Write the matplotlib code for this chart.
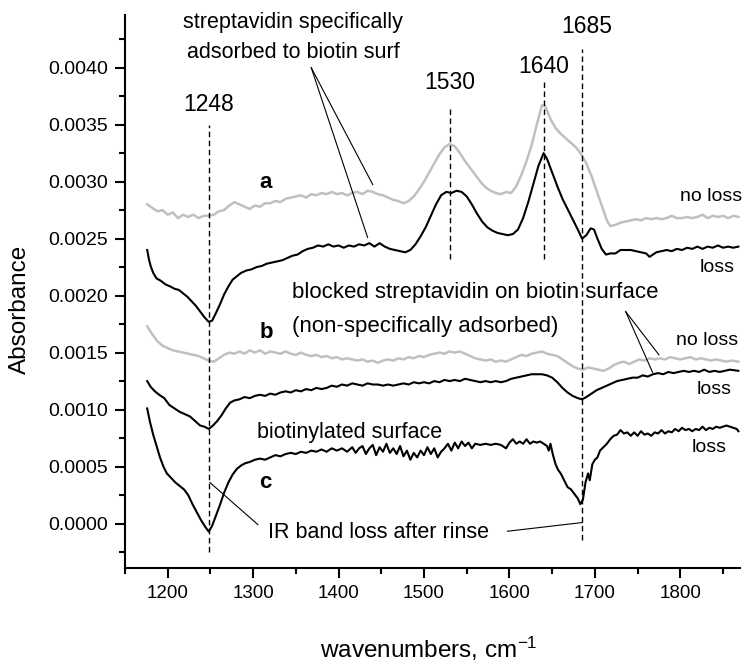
import numpy as np
import matplotlib
matplotlib.use("Agg")
import matplotlib.pyplot as plt
from matplotlib.ticker import MultipleLocator, FormatStrFormatter

plt.rcParams['font.family'] = ['Liberation Sans', 'DejaVu Sans']
plt.rcParams['mathtext.default'] = 'regular'

# spectrum a, no loss (grey)
wn_a0 = np.array([1176, 1182, 1188, 1194, 1200, 1206, 1212, 1218, 1224, 1230, 1236, 1242, 1248, 1254,
                  1260, 1266, 1272, 1278, 1284, 1290, 1296, 1302, 1308, 1314, 1320, 1326, 1332, 1338,
                  1344, 1350, 1356, 1362, 1368, 1374, 1380, 1386, 1392, 1398, 1404, 1410, 1416, 1422,
                  1428, 1434, 1440, 1446, 1452, 1458, 1464, 1470, 1476, 1482, 1488, 1494, 1500, 1506,
                  1512, 1518, 1524, 1530, 1536, 1542, 1548, 1554, 1560, 1566, 1572, 1578, 1584, 1590,
                  1596, 1602, 1608, 1614, 1620, 1626, 1632, 1638, 1642, 1648, 1654, 1660, 1666, 1672,
                  1678, 1684, 1690, 1696, 1702, 1708, 1714, 1718, 1724, 1730, 1736, 1742, 1748, 1754,
                  1760, 1766, 1772, 1778, 1784, 1790, 1796, 1802, 1808, 1814, 1820, 1826, 1832, 1838,
                  1844, 1850, 1856, 1862, 1868])
ab_a0 = np.array([2.80, 2.77, 2.74, 2.75, 2.71, 2.73, 2.68, 2.71, 2.69, 2.71, 2.68, 2.70, 2.70, 2.71,
                  2.74, 2.75, 2.79, 2.82, 2.80, 2.78, 2.76, 2.79, 2.78, 2.81, 2.81, 2.83, 2.82, 2.85,
                  2.86, 2.87, 2.88, 2.86, 2.89, 2.88, 2.90, 2.89, 2.91, 2.89, 2.90, 2.88, 2.90, 2.91,
                  2.89, 2.92, 2.91, 2.89, 2.88, 2.86, 2.84, 2.83, 2.81, 2.83, 2.87, 2.93, 3.00, 3.08,
                  3.16, 3.24, 3.30, 3.33, 3.31, 3.25, 3.18, 3.12, 3.06, 3.00, 2.95, 2.92, 2.90, 2.89,
                  2.91, 2.90, 2.96, 3.06, 3.18, 3.32, 3.50, 3.67, 3.66, 3.55, 3.47, 3.42, 3.38, 3.34,
                  3.30, 3.24, 3.16, 3.05, 2.92, 2.79, 2.66, 2.61, 2.62, 2.64, 2.65, 2.66, 2.67, 2.66,
                  2.68, 2.67, 2.68, 2.67, 2.68, 2.70, 2.68, 2.68, 2.69, 2.68, 2.69, 2.71, 2.68, 2.70,
                  2.69, 2.70, 2.68, 2.70, 2.69]) * 1e-3

# spectrum a, loss (black)
wn_a1 = np.array([1176, 1178, 1180, 1183, 1187, 1192, 1197, 1203, 1208, 1213, 1218, 1223, 1228, 1233,
                  1238, 1243, 1248, 1252, 1256, 1261, 1266, 1271, 1276, 1281, 1286, 1292, 1298, 1304,
                  1310, 1316, 1322, 1328, 1334, 1340, 1346, 1352, 1358, 1364, 1370, 1376, 1382, 1388,
                  1394, 1400, 1406, 1412, 1418, 1424, 1430, 1436, 1442, 1448, 1454, 1460, 1466, 1472,
                  1478, 1484, 1490, 1496, 1502, 1508, 1514, 1520, 1526, 1532, 1538, 1544, 1550, 1556,
                  1562, 1568, 1574, 1580, 1586, 1592, 1598, 1604, 1610, 1616, 1622, 1628, 1634, 1640,
                  1644, 1650, 1656, 1662, 1668, 1674, 1680, 1685, 1690, 1695, 1699, 1703, 1708, 1713,
                  1718, 1724, 1730, 1736, 1742, 1748, 1754, 1760, 1764, 1768, 1772, 1778, 1784, 1790,
                  1796, 1802, 1808, 1814, 1820, 1826, 1832, 1838, 1844, 1850, 1856, 1862, 1868])
ab_a1 = np.array([2.40, 2.32, 2.26, 2.20, 2.15, 2.13, 2.10, 2.08, 2.06, 2.05, 2.02, 1.99, 1.95, 1.91,
                  1.86, 1.81, 1.77, 1.78, 1.84, 1.92, 2.01, 2.08, 2.14, 2.17, 2.20, 2.22, 2.23, 2.25,
                  2.26, 2.28, 2.29, 2.30, 2.31, 2.33, 2.35, 2.36, 2.39, 2.41, 2.42, 2.44, 2.43, 2.45,
                  2.43, 2.44, 2.42, 2.44, 2.43, 2.45, 2.44, 2.46, 2.43, 2.46, 2.43, 2.41, 2.40, 2.39,
                  2.38, 2.40, 2.45, 2.52, 2.60, 2.70, 2.80, 2.88, 2.91, 2.90, 2.92, 2.91, 2.87, 2.80,
                  2.72, 2.65, 2.60, 2.57, 2.55, 2.54, 2.53, 2.54, 2.58, 2.68, 2.82, 2.98, 3.14, 3.25,
                  3.20, 3.08, 2.96, 2.85, 2.76, 2.67, 2.58, 2.50, 2.53, 2.59, 2.58, 2.50, 2.41, 2.36,
                  2.37, 2.37, 2.40, 2.40, 2.40, 2.39, 2.38, 2.37, 2.34, 2.36, 2.38, 2.39, 2.40, 2.39,
                  2.41, 2.40, 2.42, 2.41, 2.43, 2.41, 2.43, 2.42, 2.44, 2.42, 2.43, 2.42, 2.43]) * 1e-3

# spectrum b, no loss (grey)
wn_b0 = np.array([1176, 1182, 1188, 1194, 1200, 1206, 1212, 1218, 1224, 1230, 1236, 1242, 1248, 1254,
                  1260, 1266, 1272, 1278, 1284, 1290, 1296, 1302, 1308, 1314, 1320, 1326, 1332, 1338,
                  1344, 1350, 1356, 1362, 1368, 1374, 1380, 1386, 1392, 1398, 1404, 1410, 1416, 1422,
                  1428, 1434, 1440, 1446, 1452, 1458, 1464, 1470, 1476, 1482, 1488, 1494, 1500, 1506,
                  1512, 1518, 1524, 1530, 1536, 1542, 1548, 1554, 1560, 1566, 1572, 1578, 1584, 1590,
                  1596, 1602, 1608, 1614, 1620, 1626, 1632, 1638, 1644, 1650, 1656, 1662, 1668, 1674,
                  1680, 1686, 1692, 1698, 1704, 1710, 1716, 1722, 1728, 1734, 1740, 1746, 1752, 1758,
                  1764, 1770, 1776, 1782, 1788, 1794, 1800, 1806, 1812, 1818, 1824, 1830, 1836, 1842,
                  1848, 1854, 1860, 1868])
ab_b0 = np.array([1.73, 1.66, 1.60, 1.56, 1.54, 1.52, 1.51, 1.50, 1.49, 1.48, 1.47, 1.45, 1.43, 1.42,
                  1.45, 1.48, 1.50, 1.49, 1.51, 1.49, 1.52, 1.50, 1.52, 1.49, 1.51, 1.50, 1.49, 1.51,
                  1.49, 1.48, 1.50, 1.48, 1.47, 1.48, 1.46, 1.47, 1.45, 1.46, 1.44, 1.45, 1.44, 1.43,
                  1.44, 1.42, 1.43, 1.41, 1.43, 1.44, 1.43, 1.45, 1.44, 1.46, 1.45, 1.47, 1.46, 1.48,
                  1.49, 1.50, 1.49, 1.51, 1.50, 1.51, 1.49, 1.47, 1.45, 1.44, 1.43, 1.44, 1.42, 1.43,
                  1.42, 1.44, 1.46, 1.48, 1.47, 1.49, 1.50, 1.51, 1.49, 1.48, 1.47, 1.44, 1.41, 1.38,
                  1.36, 1.35, 1.37, 1.36, 1.35, 1.34, 1.36, 1.39, 1.41, 1.42, 1.40, 1.42, 1.44, 1.43,
                  1.45, 1.44, 1.45, 1.44, 1.46, 1.45, 1.44, 1.45, 1.46, 1.44, 1.45, 1.44, 1.43, 1.44,
                  1.43, 1.42, 1.43, 1.42]) * 1e-3

# spectrum b, loss (black)
wn_b1 = np.array([1176, 1180, 1185, 1190, 1196, 1202, 1208, 1214, 1220, 1226, 1232, 1238, 1243, 1248,
                  1253, 1258, 1263, 1268, 1273, 1278, 1284, 1290, 1296, 1302, 1308, 1314, 1320, 1326,
                  1332, 1338, 1344, 1350, 1356, 1362, 1368, 1374, 1380, 1386, 1392, 1398, 1404, 1410,
                  1416, 1422, 1428, 1434, 1440, 1446, 1452, 1458, 1464, 1470, 1476, 1482, 1488, 1494,
                  1500, 1506, 1512, 1518, 1524, 1530, 1536, 1542, 1548, 1554, 1560, 1566, 1572, 1578,
                  1584, 1590, 1596, 1602, 1608, 1614, 1620, 1626, 1632, 1638, 1644, 1650, 1656, 1662,
                  1668, 1674, 1680, 1685, 1690, 1696, 1702, 1708, 1714, 1720, 1726, 1732, 1738, 1744,
                  1750, 1756, 1762, 1768, 1774, 1780, 1786, 1792, 1798, 1804, 1810, 1816, 1822, 1828,
                  1834, 1840, 1846, 1852, 1858, 1868])
ab_b1 = np.array([1.25, 1.20, 1.16, 1.13, 1.10, 1.04, 1.01, 0.98, 0.96, 0.94, 0.90, 0.86, 0.85, 0.83,
                  0.86, 0.90, 0.95, 1.01, 1.06, 1.08, 1.09, 1.11, 1.10, 1.12, 1.13, 1.12, 1.14, 1.13,
                  1.15, 1.16, 1.15, 1.17, 1.16, 1.18, 1.17, 1.19, 1.18, 1.19, 1.21, 1.20, 1.22, 1.21,
                  1.23, 1.22, 1.21, 1.23, 1.22, 1.22, 1.21, 1.22, 1.21, 1.22, 1.23, 1.22, 1.24, 1.23,
                  1.24, 1.23, 1.25, 1.24, 1.26, 1.25, 1.26, 1.25, 1.27, 1.26, 1.25, 1.24, 1.25, 1.24,
                  1.25, 1.24, 1.25, 1.27, 1.28, 1.29, 1.30, 1.31, 1.31, 1.31, 1.30, 1.28, 1.24, 1.19,
                  1.15, 1.12, 1.10, 1.09, 1.11, 1.14, 1.17, 1.19, 1.21, 1.23, 1.25, 1.26, 1.27, 1.28,
                  1.28, 1.30, 1.29, 1.31, 1.32, 1.31, 1.33, 1.32, 1.33, 1.34, 1.33, 1.34, 1.33, 1.35,
                  1.33, 1.34, 1.33, 1.34, 1.35, 1.34]) * 1e-3

# spectrum c, biotinylated surface, loss (black)
wn_c1 = np.array([1176, 1179, 1183, 1187, 1191, 1195, 1199, 1204, 1209, 1214, 1219, 1224, 1229, 1234,
                  1239, 1244, 1248, 1252, 1256, 1261, 1266, 1271, 1276, 1281, 1286, 1291, 1296, 1302,
                  1308, 1314, 1320, 1326, 1332, 1338, 1344, 1350, 1356, 1362, 1368, 1374, 1380, 1386,
                  1392, 1398, 1404, 1410, 1416, 1420, 1424, 1428, 1432, 1436, 1440, 1444, 1448, 1452,
                  1456, 1460, 1464, 1468, 1472, 1476, 1480, 1484, 1488, 1492, 1496, 1500, 1504, 1508,
                  1512, 1516, 1520, 1524, 1528, 1532, 1536, 1540, 1544, 1548, 1552, 1556, 1560, 1566,
                  1572, 1578, 1584, 1590, 1596, 1600, 1604, 1608, 1612, 1616, 1620, 1624, 1628, 1632,
                  1636, 1640, 1644, 1646, 1648, 1651, 1654, 1657, 1660, 1664, 1668, 1672, 1676, 1680,
                  1683, 1686, 1689, 1692, 1694, 1697, 1700, 1703, 1706, 1710, 1714, 1718, 1722, 1726,
                  1730, 1734, 1738, 1742, 1746, 1750, 1754, 1758, 1762, 1766, 1770, 1774, 1778, 1782,
                  1786, 1790, 1794, 1798, 1802, 1806, 1810, 1814, 1818, 1822, 1826, 1830, 1834, 1838,
                  1842, 1846, 1850, 1854, 1858, 1862, 1866, 1868])
ab_c1 = np.array([1.01, 0.90, 0.78, 0.68, 0.58, 0.50, 0.44, 0.40, 0.36, 0.33, 0.30, 0.25, 0.17, 0.10,
                  0.03, -0.03, -0.07, -0.02, 0.06, 0.16, 0.27, 0.36, 0.43, 0.48, 0.51, 0.53, 0.54, 0.56,
                  0.57, 0.56, 0.58, 0.60, 0.59, 0.61, 0.62, 0.61, 0.63, 0.62, 0.64, 0.63, 0.65, 0.63,
                  0.66, 0.64, 0.66, 0.63, 0.67, 0.62, 0.66, 0.68, 0.61, 0.66, 0.69, 0.60, 0.67, 0.63,
                  0.70, 0.62, 0.66, 0.61, 0.68, 0.59, 0.64, 0.56, 0.62, 0.58, 0.64, 0.60, 0.67, 0.61,
                  0.66, 0.58, 0.63, 0.66, 0.70, 0.64, 0.71, 0.66, 0.72, 0.68, 0.71, 0.66, 0.70, 0.69,
                  0.70, 0.69, 0.70, 0.69, 0.66, 0.71, 0.74, 0.70, 0.72, 0.70, 0.74, 0.70, 0.72, 0.71,
                  0.72, 0.70, 0.68, 0.64, 0.70, 0.60, 0.52, 0.47, 0.44, 0.38, 0.32, 0.30, 0.26, 0.22,
                  0.17, 0.21, 0.36, 0.44, 0.38, 0.52, 0.56, 0.58, 0.64, 0.67, 0.70, 0.74, 0.77, 0.78,
                  0.82, 0.79, 0.80, 0.77, 0.80, 0.77, 0.81, 0.78, 0.79, 0.77, 0.80, 0.79, 0.82, 0.79,
                  0.81, 0.80, 0.83, 0.81, 0.84, 0.82, 0.83, 0.81, 0.83, 0.82, 0.85, 0.82, 0.84, 0.83,
                  0.85, 0.84, 0.85, 0.86, 0.85, 0.84, 0.83, 0.81]) * 1e-3

# band markers: position, bottom, top of the dashed line
band_pos = [1248, 1530, 1640, 1685]
band_lo = [-0.00025, 0.00232, 0.00232, -0.00014]
band_hi = [0.00350, 0.00365, 0.00387, 0.00416]
band_lab_y = [0.00368, 0.00387, 0.00401, 0.00436]

grey = '#c0c0c0'

fig = plt.figure(figsize=(7.52, 6.62), dpi=100)
ax = fig.add_axes([0.1662, 0.142, 0.818, 0.835])

ax.plot(wn_a0, ab_a0, color=grey, lw=1.8)
ax.plot(wn_a1, ab_a1, color='black', lw=1.5)
ax.plot(wn_b0, ab_b0, color=grey, lw=1.8)
ax.plot(wn_b1, ab_b1, color='black', lw=1.5)
ax.plot(wn_c1, ab_c1, color='black', lw=1.5)

for p, lo, hi, ly in zip(band_pos, band_lo, band_hi, band_lab_y):
    ax.plot([p, p], [lo, hi], color='black', lw=1.0, dashes=(4, 2.5))
    ax.text(p + (6 if p == 1685 else 0), ly, str(p), ha='center', va='center', fontsize=16.5)

# annotations for a
ax.text(1347, 0.00440, 'streptavidin specifically', ha='center', va='center', fontsize=15.5)
ax.text(1347, 0.00413, 'adsorbed to biotin surf', ha='center', va='center', fontsize=15.5)
ax.plot([1368, 1440], [0.00400, 0.002974], color='black', lw=0.8)
ax.plot([1368, 1434], [0.00400, 0.00251], color='black', lw=0.8)
ax.text(1314, 0.00299, 'a', ha='center', va='center', fontsize=16, fontweight='bold')
ax.text(1836, 0.00287, 'no loss', ha='center', va='center', fontsize=14)
ax.text(1843, 0.00225, 'loss', ha='center', va='center', fontsize=14)

# annotations for b
ax.text(1346, 0.00203, 'blocked streptavidin on biotin surface', ha='left', va='center', fontsize=16)
ax.text(1346, 0.00173, '(non-specifically adsorbed)', ha='left', va='center', fontsize=16)
ax.plot([1736, 1775], [0.00186, 0.00148], color='black', lw=0.8)
ax.plot([1736, 1767.5], [0.00186, 0.001327], color='black', lw=0.8)
ax.text(1316, 0.001675, 'b', ha='center', va='center', fontsize=16, fontweight='bold')
ax.text(1831, 0.00161, 'no loss', ha='center', va='center', fontsize=14)
ax.text(1840, 0.001175, 'loss', ha='center', va='center', fontsize=14)

# annotations for c
ax.text(1305, 0.00080, 'biotinylated surface', ha='left', va='center', fontsize=15.5)
ax.text(1314, 0.00036, 'c', ha='center', va='center', fontsize=16, fontweight='bold')
ax.text(1834, 0.000667, 'loss', ha='center', va='center', fontsize=14)
ax.text(1317, -0.000079, 'IR band loss after rinse', ha='left', va='center', fontsize=15.5)
ax.plot([1305.5, 1249.4], [-0.0000088, 0.00036], color='black', lw=0.8)
ax.plot([1597.7, 1685.3], [-0.0000675, 0.0000088], color='black', lw=0.8)

ax.set_xlim(1150, 1870)
ax.set_ylim(-0.00039, 0.00446)
ax.xaxis.set_major_locator(MultipleLocator(100))
ax.xaxis.set_minor_locator(MultipleLocator(50))
ax.yaxis.set_major_locator(MultipleLocator(0.0005))
ax.yaxis.set_minor_locator(MultipleLocator(0.00025))
ax.yaxis.set_major_formatter(FormatStrFormatter('%.4f'))

for s in ['top', 'right']:
    ax.spines[s].set_visible(False)
for s in ['left', 'bottom']:
    ax.spines[s].set_linewidth(1.5)
ax.tick_params(which='major', direction='out', length=7, width=1.5, labelsize=13.5, pad=5)
ax.tick_params(which='minor', direction='out', length=4.5, width=1.5)
ax.tick_params(axis='y', labelsize=14)

ax.set_xlabel('wavenumbers, cm$^{-1}$', fontsize=17.5, va='baseline')
ax.set_ylabel('Absorbance', fontsize=17.5, va='center')
ax.xaxis.set_label_coords(0.494, -0.163)
ax.yaxis.set_label_coords(-0.17, 0.468)

fig.savefig('out.png', dpi=100)
